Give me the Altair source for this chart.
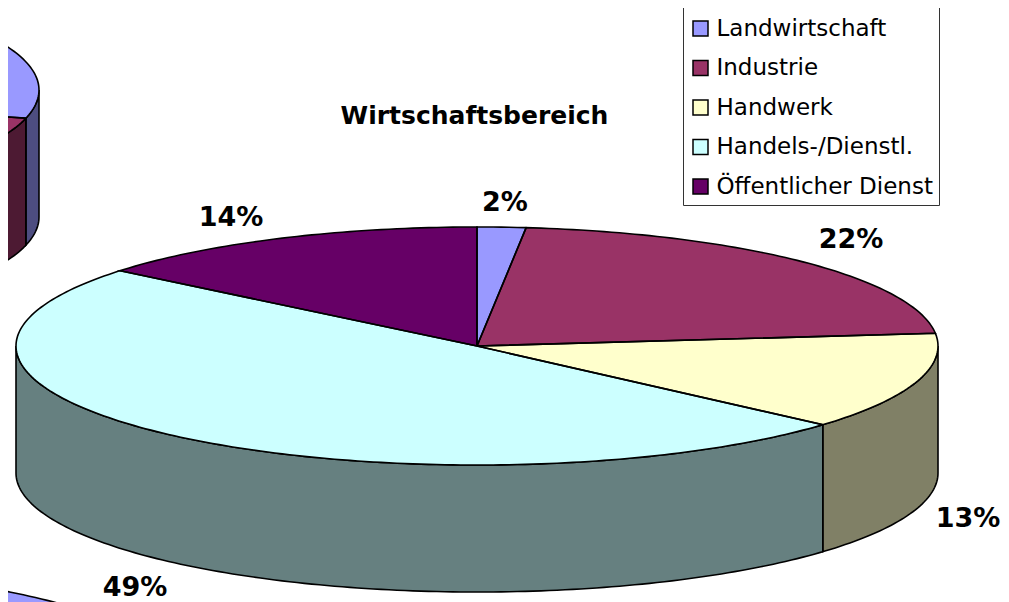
import altair as alt
import numpy as np
import pandas as pd

categories = ["Landwirtschaft", "Industrie", "Handwerk", "Handels-/Dienstl.", "Öffentlicher Dienst"]
shares_main = [1.7, 21.6, 13.2, 49.4, 14.1]
shares_upper = [28.8, 21.2]            # neighbouring pie, cut off at the left edge
shares_lower = [25.0]                  # neighbouring pie, cut off at the bottom edge
top_colors = ["#9999ff", "#993366", "#ffffcc", "#ccffff", "#660066"]
wall_colors = ["#4d4d80", "#4d1a33", "#808066", "#668080", "#330033"]
labels = ["2%", "22%", "13%", "49%", "14%"]
label_x = [505, 851, 968, 135, 231]
label_y = [203, 240, 519, 588, 218]
title_text = "Wirtschaftsbereich"

RX, RY, DEPTH = 461.0, 119.0, 127.0
FONT = "DejaVu Sans"


def ell(cx, cy, deg):
    t = np.radians(deg)
    return cx + RX * np.sin(t), cy - RY * np.cos(t)


def arc_degs(a, b):
    return np.unique(np.concatenate([np.arange(np.ceil(a), b, 1.0), [a, b]]))


fill_top, fill_wall, line_top, line_wall = [], [], [], []
poly_id = 0


def add_line(store, pid, xs, ys):
    for i, (x, y) in enumerate(zip(xs, ys)):
        store.append({"poly": pid, "i": i, "x": float(x), "y": float(y)})


def add_pie(cx, cy, shares):
    global poly_id
    start = 0.0
    for k, s in enumerate(shares):
        end = start + s * 3.6
        degs = arc_degs(start, end)
        ax, ay = ell(cx, cy, degs)
        # top wedge
        px = np.concatenate([[cx], ax, [cx]])
        py = np.concatenate([[cy], ay, [cy]])
        pid = poly_id
        poly_id += 1
        add_line(line_top, pid, px, py)
        for x in np.unique(px):
            hits = []
            for j in range(len(px) - 1):
                x0, x1, y0, y1 = px[j], px[j + 1], py[j], py[j + 1]
                if min(x0, x1) <= x <= max(x0, x1):
                    if x0 == x1:
                        hits += [y0, y1]
                    else:
                        hits.append(y0 + (y1 - y0) * (x - x0) / (x1 - x0))
            fill_top.append({"poly": pid, "cat": categories[k], "x": float(x),
                             "y": float(min(hits)), "y2": float(max(hits))})
        # front wall
        lo, hi = max(start, 90.0), min(end, 270.0)
        if lo < hi:
            wd = arc_degs(lo, hi)
            wx, wy = ell(cx, cy, wd)
            pid = poly_id
            poly_id += 1
            add_line(line_wall, pid,
                     np.concatenate([wx, wx[::-1], wx[:1]]),
                     np.concatenate([wy, wy[::-1] + DEPTH, wy[:1]]))
            for x, y in zip(wx, wy):
                fill_wall.append({"poly": pid, "shade": wall_colors[k], "x": float(x),
                                  "y": float(y), "y2": float(y + DEPTH)})
        start = end


add_pie(-422.0, 90.0, shares_upper)
add_pie(-273.0, 686.0, shares_lower)
add_pie(477.0, 346.0, shares_main)

X = alt.X("x:Q", scale=alt.Scale(domain=[8, 1001], nice=False, zero=False), axis=None)
Y = alt.Y("y:Q", scale=alt.Scale(domain=[602, 8], nice=False, zero=False), axis=None)

walls = alt.Chart(pd.DataFrame(fill_wall)).mark_area(clip=True).encode(
    x=X, y=Y, y2="y2:Q", detail="poly:N", fill=alt.Fill("shade:N", scale=None))
wall_lines = alt.Chart(pd.DataFrame(line_wall)).mark_line(clip=True, color="black", strokeWidth=1.6).encode(
    x=X, y=Y, detail="poly:N", order="i:Q")
tops = alt.Chart(pd.DataFrame(fill_top)).mark_area(clip=True).encode(
    x=X, y=Y, y2="y2:Q", detail="poly:N",
    fill=alt.Fill("cat:N", sort=categories,
                  scale=alt.Scale(domain=categories, range=top_colors),
                  legend=alt.Legend(title=" ", titleFontSize=1, titlePadding=4,
                                    orient="none", legendX=675, legendY=-2,
                                    symbolType="square", symbolSize=225,
                                    symbolStrokeColor="black", symbolStrokeWidth=1.5,
                                    labelFont=FONT, labelFontSize=23, labelColor="black",
                                    labelLimit=400, labelOffset=4.5,
                                    rowPadding=15.5, padding=6,
                                    fillColor="white", strokeColor="#333333")))
top_lines = alt.Chart(pd.DataFrame(line_top)).mark_line(clip=True, color="black", strokeWidth=1.6).encode(
    x=X, y=Y, detail="poly:N", order="i:Q")
text = alt.Chart(pd.DataFrame({"x": label_x, "y": label_y, "t": labels})).mark_text(
    font=FONT, fontSize=27, fontWeight="bold", color="black", align="center", baseline="middle"
).encode(x=X, y=Y, text="t:N")

chart = alt.layer(walls, wall_lines, tops, top_lines, text).properties(
    width=993, height=594,
    autosize=alt.AutoSizeParams(type="none"),
    padding=0,
    title=alt.TitleParams(title_text, font=FONT, fontSize=25, fontWeight="bold", color="black",
                          anchor="middle", dx=-30, dy=123, offset=0),
).configure_view(stroke=None)

chart.save("out.html", embed_options={"renderer": "svg", "actions": False})
